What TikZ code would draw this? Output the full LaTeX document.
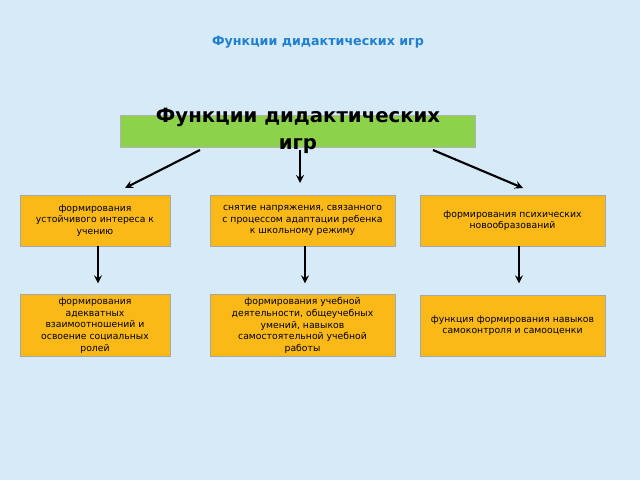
\documentclass[tikz,border=0pt]{standalone}
\usepackage{fontspec}
\setmainfont{DejaVu Sans}
\usetikzlibrary{positioning}
\definecolor{bgblue}{HTML}{D6EAF8}
\definecolor{boxorange}{HTML}{FBB917}
\definecolor{boxgreen}{HTML}{8CD24A}
\definecolor{titleblue}{HTML}{1F7FD0}
\begin{document}
\begin{tikzpicture}[x=0.025cm,y=-0.025cm,line width=1.2pt,>=stealth,
  fbox/.style={fill=boxorange,draw=black!35,line width=0.6pt,inner sep=2pt,align=center,font=\fontsize{6.6}{8.4}\selectfont},
  narrow/.style={minimum width=3.75cm},
  wide/.style={minimum width=4.625cm},
  arr/.style={->,line width=1.5pt}]
\fill[bgblue] (0,0) rectangle (640,480);
\node[text=titleblue,font=\bfseries\fontsize{9}{11}\selectfont] (title) at (318,42) {Функции дидактических игр};
\fill[boxgreen,draw=black!30,line width=0.6pt] (120,115) rectangle (475,147);
\node[font=\bfseries\fontsize{14}{19}\selectfont,align=center] (main) at (298,131) {Функции дидактических\\игр};
\coordinate (mL) at (200,150);
\coordinate (mC) at (300,150);
\coordinate (mR) at (433,150);
\node[fbox,narrow,minimum height=1.275cm] (a1) at (95,220.5) {формирования\\устойчивого интереса к\\учению};
\node[fbox,wide,minimum height=1.275cm] (a2) at (302.5,220.5) {снятие напряжения, связанного\\с процессом адаптации ребенка\\к школьному режиму};
\node[fbox,wide,minimum height=1.275cm] (a3) at (512.5,220.5) {формирования психических\\новообразований};
\node[fbox,narrow,minimum height=1.525cm] (b1) at (95,325.5) {формирования\\адекватных\\взаимоотношений и\\освоение социальных\\ролей};
\node[fbox,wide,minimum height=1.525cm] (b2) at (302.5,325.5) {формирования учебной\\деятельности, общеучебных\\умений, навыков\\самостоятельной учебной\\работы};
\node[fbox,wide,minimum height=1.525cm] (b3) at (512.5,325.5) {функция формирования навыков\\самоконтроля и самооценки};
\draw[arr] (mL) -- (125,188);
\draw[arr] (mC) -- (300,183);
\draw[arr] (mR) -- (523,188);
\draw[arr] (a1.south -| 98,0) -- ++(0,37);
\draw[arr] (a2.south -| 305,0) -- ++(0,37);
\draw[arr] (a3.south -| 519,0) -- ++(0,37);
\end{tikzpicture}
\end{document}
